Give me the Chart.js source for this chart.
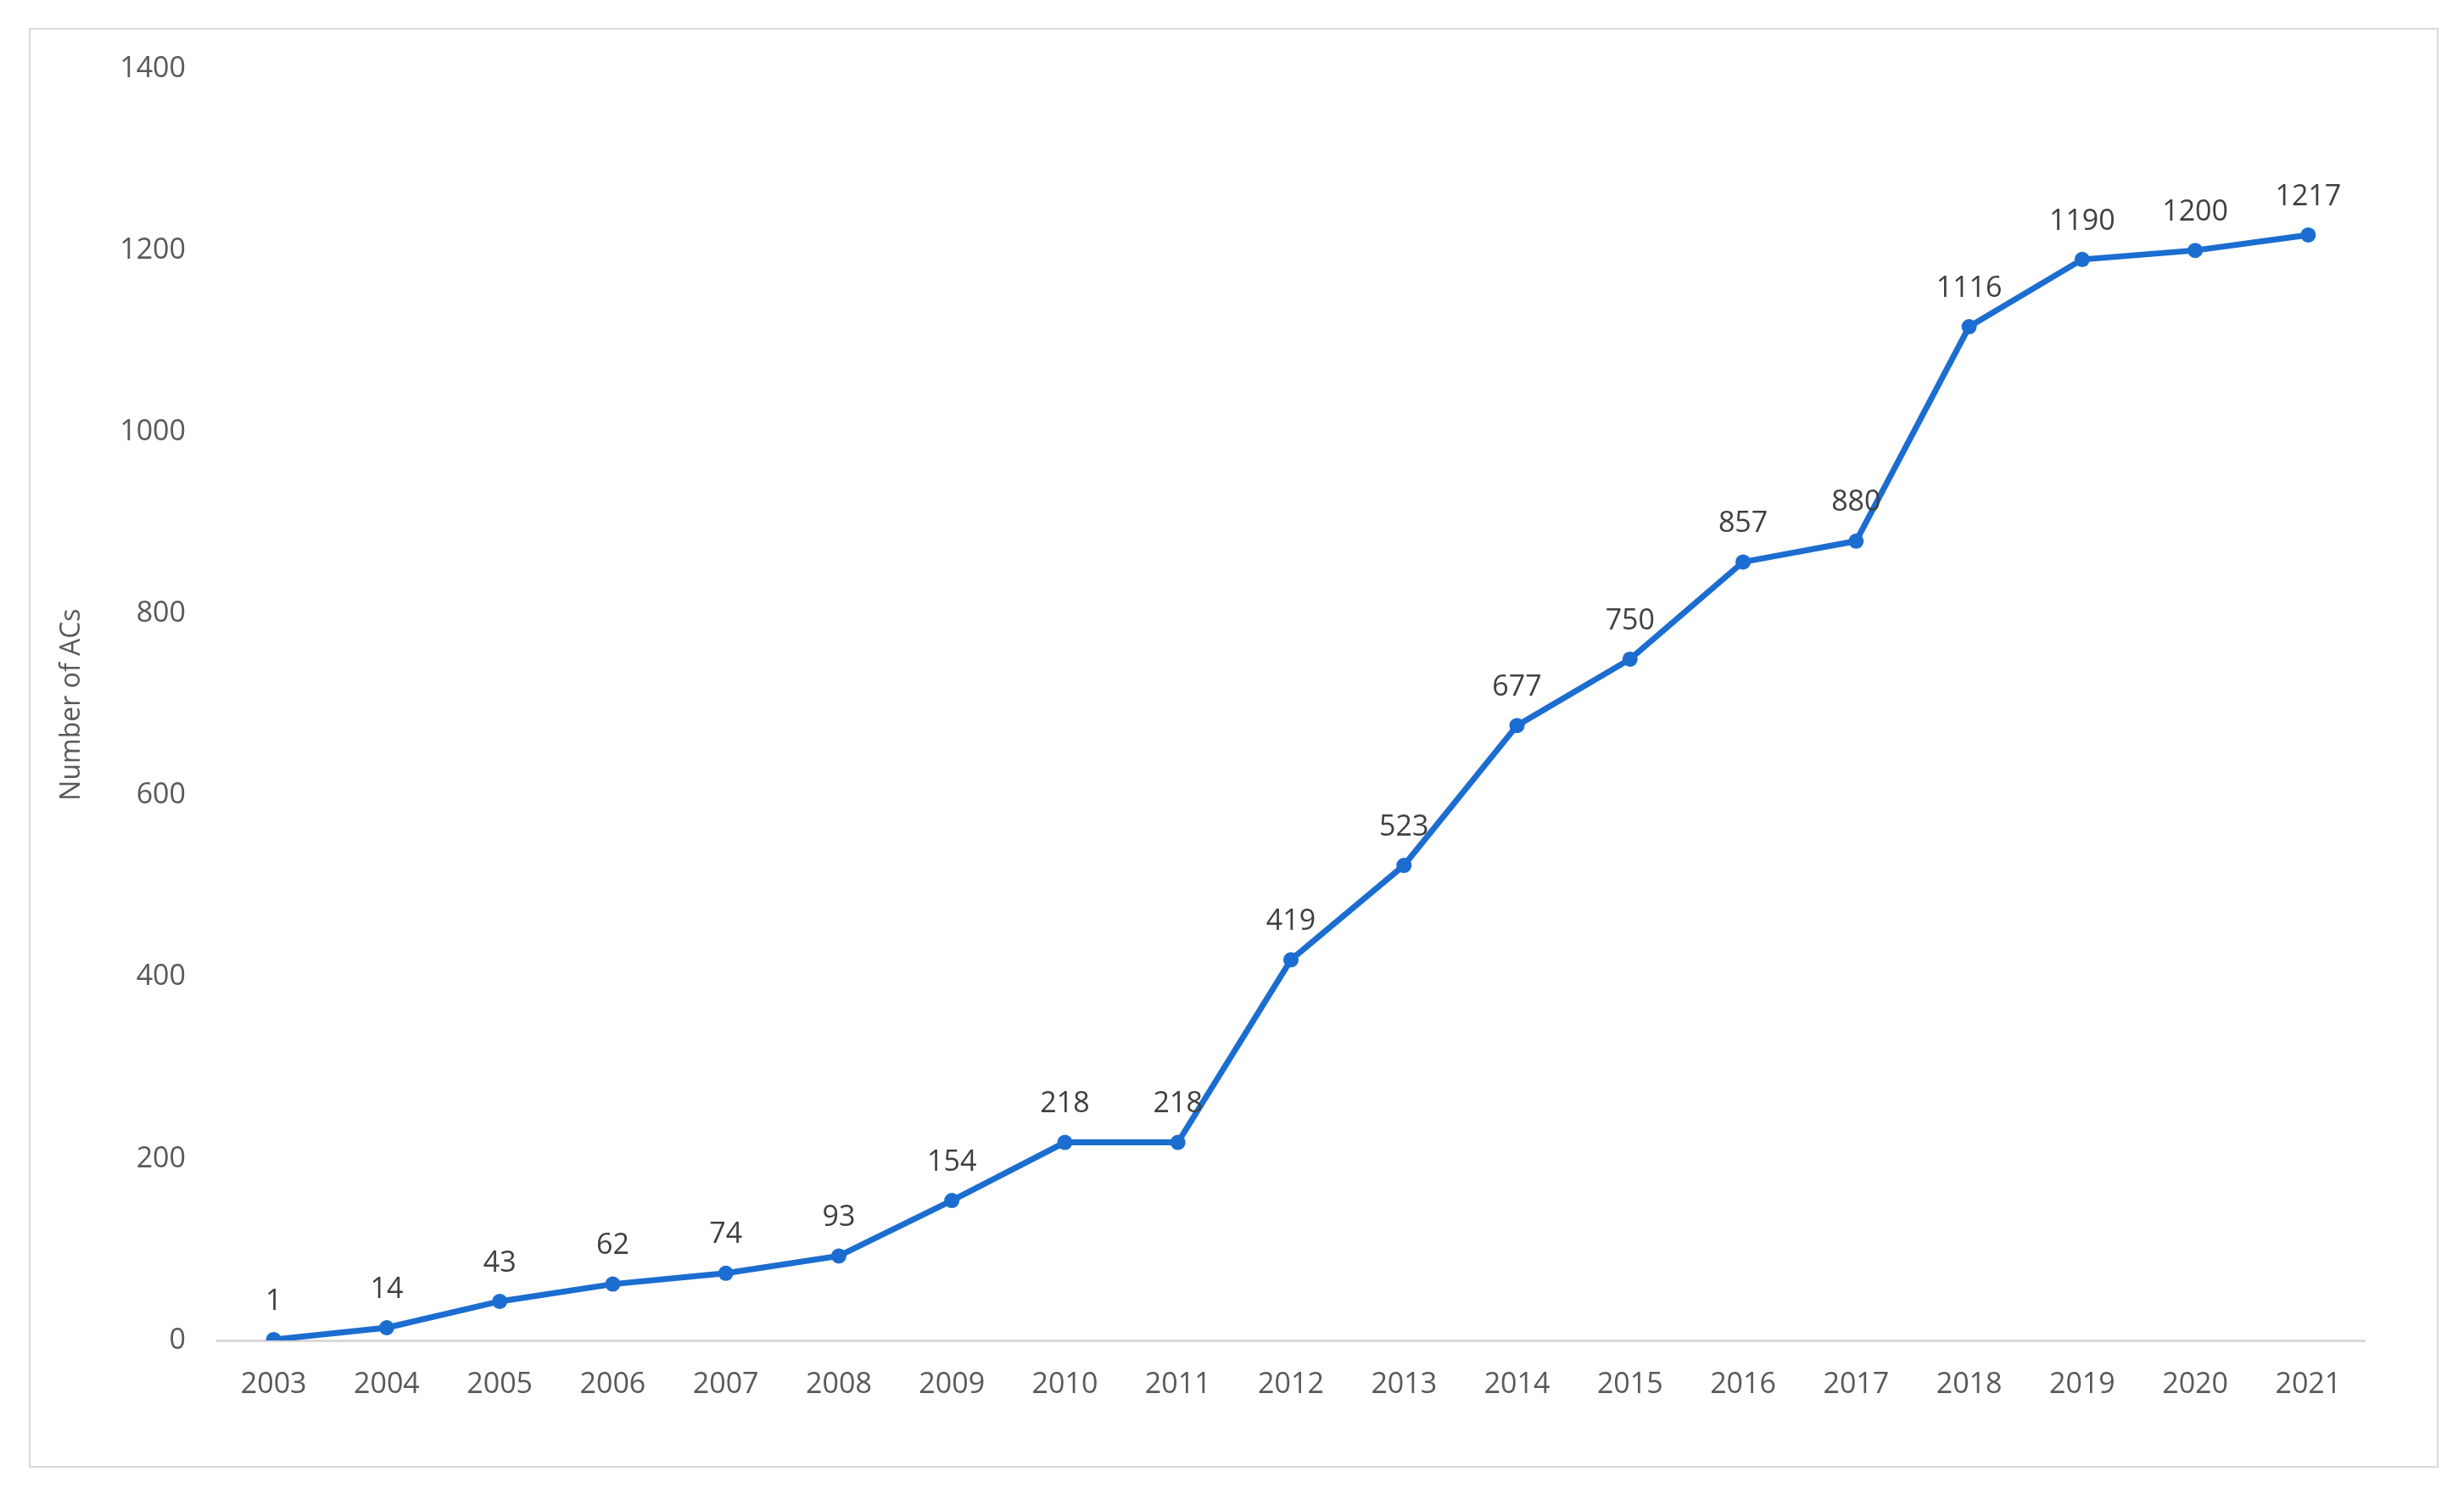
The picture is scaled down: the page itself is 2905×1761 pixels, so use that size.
<!DOCTYPE html>
<html>
<head>
<meta charset="utf-8">
<script src="https://cdn.jsdelivr.net/npm/chart.js@4/dist/chart.umd.min.js"></script>
<style>
  html, body { margin: 0; padding: 0; background: #ffffff; }
  #wrap { position: absolute; left: 0; top: 0; width: 2905px; height: 1761px; }
</style>
</head>
<body>
<div id="wrap"><canvas id="c" width="2905" height="1761"></canvas></div>
<script>
const years = ['2003','2004','2005','2006','2007','2008','2009','2010','2011','2012','2013','2014','2015','2016','2017','2018','2019','2020','2021'];
const acCounts = [1, 14, 43, 62, 74, 93, 154, 218, 218, 419, 523, 677, 750, 857, 880, 1116, 1190, 1200, 1217];
const yAxisTitle = 'Number of ACs';

const FONT = "'Open Sans', 'DejaVu Sans', sans-serif";

const frame = {
  id: 'frame',
  beforeDraw(chart) {
    const ctx = chart.ctx;
    ctx.save();
    ctx.fillStyle = '#ffffff';
    ctx.fillRect(0, 0, chart.width, chart.height);
    ctx.strokeStyle = '#d9d9d9';
    ctx.lineWidth = 2;
    ctx.strokeRect(35, 34, 2839, 1695);
    ctx.restore();
  }
};

const valueLabels = {
  id: 'valueLabels',
  afterDatasetsDraw(chart) {
    const ctx = chart.ctx;
    const meta = chart.getDatasetMeta(0);
    ctx.save();
    ctx.font = '34px ' + FONT;
    ctx.fillStyle = '#404040';
    ctx.textAlign = 'center';
    ctx.textBaseline = 'middle';
    meta.data.forEach((pt, i) => {
      ctx.fillText(String(chart.data.datasets[0].data[i]), pt.x, pt.y - 45);
    });
    ctx.restore();
  }
};

new Chart(document.getElementById('c'), {
  type: 'line',
  data: {
    labels: years,
    datasets: [{
      data: acCounts,
      borderColor: '#1B6DD0',
      backgroundColor: '#1B6DD0',
      borderWidth: 7,
      pointRadius: 9,
      pointBackgroundColor: '#1B6DD0',
      pointBorderWidth: 0,
      tension: 0,
      fill: false
    }]
  },
  options: {
    responsive: false,
    animation: false,
    devicePixelRatio: 1,
    layout: { padding: { left: 0, top: 81, right: 117, bottom: 0 } },
    plugins: { legend: { display: false }, tooltip: { enabled: false } },
    scales: {
      x: {
        type: 'category',
        offset: true,
        grid: { display: false, drawTicks: false },
        border: { display: true, color: '#d9d9d9', width: 3 },
        ticks: { color: '#595959', font: { family: FONT, size: 34 }, padding: 32, maxRotation: 0, autoSkip: false },
        afterFit(scale) { scale.height = 181; }
      },
      y: {
        min: 0,
        max: 1400,
        grid: { display: false, drawTicks: false },
        border: { display: false },
        ticks: { stepSize: 200, color: '#595959', font: { family: FONT, size: 34 }, padding: 37,
                 callback: (v) => String(v) },
        title: { display: true, text: yAxisTitle, color: '#595959', font: { family: FONT, size: 32 }, padding: { top: 66, bottom: 0 } },
        afterFit(scale) { scale.width = 256; }
      }
    }
  },
  plugins: [frame, valueLabels]
});
</script>
</body>
</html>
